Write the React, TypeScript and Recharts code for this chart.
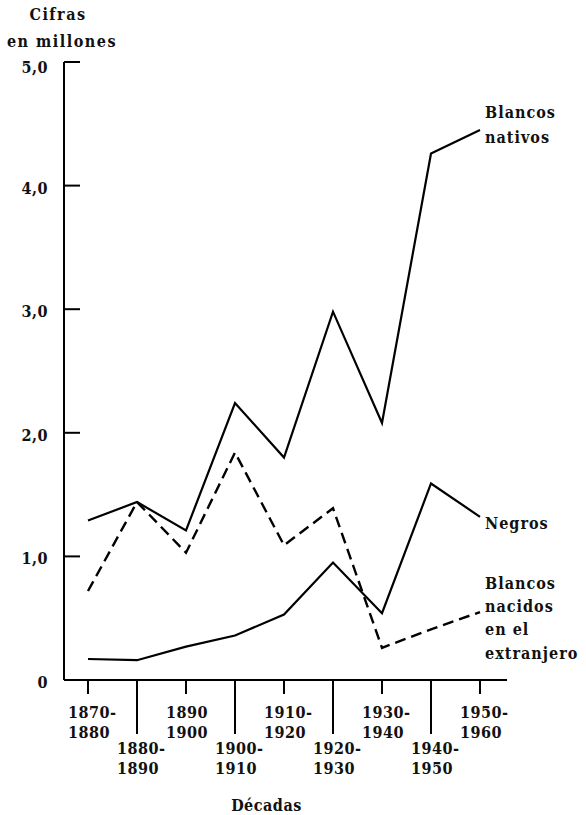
import React from 'react';
import { Line, LineChart, XAxis, YAxis, LabelList } from 'recharts';

const decadas = ['1870-1880', '1880-1890', '1890-1900', '1900-1910', '1910-1920', '1920-1930', '1930-1940', '1940-1950', '1950-1960'];
const tickArriba = ['1870-', '1880-', '1890', '1900-', '1910-', '1920-', '1930-', '1940-', '1950-'];
const tickAbajo = ['1880', '1890', '1900', '1910', '1920', '1930', '1940', '1950', '1960'];

// cifras en millones
const blancosNativos = [1.29, 1.44, 1.21, 2.24, 1.8, 2.98, 2.08, 4.26, 4.45];
const nacidosExtranjero = [0.72, 1.44, 1.03, 1.84, 1.09, 1.39, 0.26, 0.41, 0.55];
const negros = [0.17, 0.16, 0.27, 0.36, 0.53, 0.95, 0.54, 1.59, 1.32];
const yTicks = [0, 1, 2, 3, 4, 5];

const data = decadas.map((decada, i) => ({
  decada,
  blancosNativos: blancosNativos[i],
  nacidosExtranjero: nacidosExtranjero[i],
  negros: negros[i],
}));

const txt = {
  fontFamily: "'DejaVu Serif Condensed', 'DejaVu Serif', serif",
  fontStretch: 'condensed',
  fontWeight: 700,
  fontSize: 16,
  fill: '#111',
  letterSpacing: 0.5,
};

const YTick = ({ x, y, payload }: any) => {
  const v = payload.value;
  const label = v === 0 ? '0' : v.toFixed(1).replace('.', ',');
  return (
    <g>
      {v > 0 && <line x1={x + 16} x2={x + 32} y1={y} y2={y} stroke="#000" strokeWidth={2} />}
      <text x={x} y={y} dy={v === 5 ? 11 : 8} textAnchor="end" style={txt}>
        {label}
      </text>
    </g>
  );
};

const XTick = ({ x, y, index }: any) => {
  const low = index % 2 === 1;
  const top = low ? y + 74 : y + 38;
  return (
    <g>
      <line x1={x} x2={x} y1={y} y2={y + (low ? 54 : 14)} stroke="#000" strokeWidth={2} />
      <text x={x - 20} y={top} style={txt}>
        {tickArriba[index]}
      </text>
      <text x={x - 20} y={top + 20} style={txt}>
        {tickAbajo[index]}
      </text>
    </g>
  );
};

const seriesLabel = (lines: string[], offsets: number[]) => (props: any) => {
  const { x, y, index } = props;
  if (index !== decadas.length - 1) return null;
  return (
    <g>
      {lines.map((l, i) => (
        <text key={l} x={x + 5} y={y + offsets[i]} dy={6} style={{ ...txt, letterSpacing: 1 }}>
          {l}
        </text>
      ))}
    </g>
  );
};

const App = () => {
  return (
    <div style={{ position: 'absolute', left: 0, top: 0, background: '#fff' }}>
      <LineChart
        width={586}
        height={815}
        data={data}
        margin={{ top: 62, right: 79, left: 24, bottom: 5 }}
      >
        <XAxis
          dataKey="decada"
          height={130}
          padding={{ left: 24, right: 27 }}
          interval={0}
          tickSize={0}
          tickMargin={0}
          tick={<XTick />}
          axisLine={{ stroke: '#000', strokeWidth: 2 }}
          label={{
            value: 'Décadas',
            position: 'insideBottom',
            offset: -1,
            dx: -19,
            style: txt,
          }}
        />
        <YAxis
          type="number"
          domain={[0, 5]}
          ticks={yTicks}
          width={40}
          tickSize={0}
          tickMargin={16}
          tick={<YTick />}
          axisLine={{ stroke: '#000', strokeWidth: 2 }}
          label={{
            content: ({ viewBox }: any) => (
              <text style={{ ...txt, letterSpacing: 1.5 }} textAnchor="middle">
                <tspan x={viewBox.x + 34} y={viewBox.y - 42}>Cifras</tspan>
                <tspan x={viewBox.x + 38} y={viewBox.y - 15}>en millones</tspan>
              </text>
            ),
          }}
        />
        <Line
          dataKey="blancosNativos"
          type="linear"
          stroke="#000"
          strokeWidth={2.2}
          dot={false}
          isAnimationActive={false}
        >
          <LabelList content={seriesLabel(['Blancos', 'nativos'], [-18, 7])} />
        </Line>
        <Line
          dataKey="nacidosExtranjero"
          type="linear"
          stroke="#000"
          strokeWidth={2.4}
          strokeDasharray="11 6"
          dot={false}
          isAnimationActive={false}
        >
          <LabelList
            content={seriesLabel(['Blancos', 'nacidos', 'en el', 'extranjero'], [-29, -6, 17, 41])}
          />
        </Line>
        <Line
          dataKey="negros"
          type="linear"
          stroke="#000"
          strokeWidth={2.2}
          dot={false}
          isAnimationActive={false}
        >
          <LabelList content={seriesLabel(['Negros'], [6])} />
        </Line>
      </LineChart>
    </div>
  );
};

export default App;
